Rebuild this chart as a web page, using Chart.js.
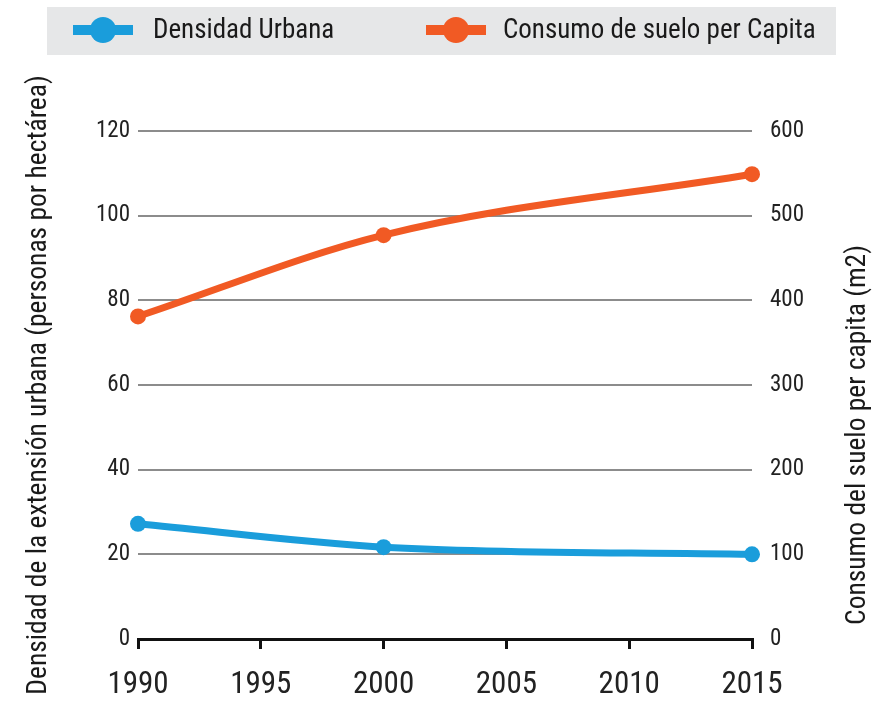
<!DOCTYPE html>
<html lang="es">
<head>
<meta charset="utf-8">
<title>Densidad urbana y consumo de suelo</title>
<script src="https://cdn.jsdelivr.net/npm/chart.js@4.4.1/dist/chart.umd.min.js"></script>
<style>
  html, body { margin: 0; padding: 0; background: #fff; }
  #marco { width: 884px; height: 706px; }
</style>
</head>
<body>
<div id="marco"><canvas id="grafico"></canvas></div>
<script>
const grafico_canvas = document.getElementById("grafico");

// datos
const anios = [1990, 2000, 2015];
const densidadUrbana = [27.2, 21.7, 20];
const consumoSuelo = [381, 477, 549];

const ticksAnios = [1990, 1995, 2000, 2005, 2010, 2015];
const ticksDensidad = [0, 20, 40, 60, 80, 100, 120];
const ticksConsumo = [0, 100, 200, 300, 400, 500, 600];

const etiquetas = ["Densidad Urbana", "Consumo de suelo per Capita"];
const tituloIzq = "Densidad de la extensión urbana (personas por hectárea)";
const tituloDer = "Consumo del suelo per capita (m2)";

const AZUL = "#1a9ddb";
const NARANJA = "#f15a24";
const FUENTE = "'Roboto Condensed', 'DejaVu Sans Condensed', sans-serif";

const puntos = (ys) => anios.map((x, i) => ({ x: x, y: ys[i] }));

// leyenda con caja gris, linea + circulo
const leyendaCaja = {
  id: "leyendaCaja",
  afterDraw(chart) {
    const ctx = chart.ctx;
    const posiciones = [
      { x: 73, tx: 153 },
      { x: 426, tx: 503 },
    ];
    ctx.save();
    ctx.fillStyle = "#e6e7e8";
    ctx.fillRect(47, 7, 789, 48);
    chart.data.datasets.forEach((ds, i) => {
      const p = posiciones[i];
      const cy = 30;
      ctx.strokeStyle = ds.borderColor;
      ctx.lineWidth = 10;
      ctx.beginPath();
      ctx.moveTo(p.x, cy);
      ctx.lineTo(p.x + 60, cy);
      ctx.stroke();
      ctx.fillStyle = ds.borderColor;
      ctx.beginPath();
      ctx.arc(p.x + 30, cy, 13, 0, Math.PI * 2);
      ctx.fill();
      ctx.fillStyle = "#1a1a1a";
      ctx.font = "27px " + FUENTE;
      ctx.textBaseline = "middle";
      ctx.textAlign = "left";
      ctx.fillText(ds.label, p.tx, cy + 1);
    });
    ctx.restore();
  },
};

// titulo del eje derecho, leido de abajo hacia arriba como en el original
const tituloDerecho = {
  id: "tituloDerecho",
  afterDraw(chart) {
    const ctx = chart.ctx;
    const escala = chart.scales.y2;
    ctx.save();
    ctx.translate(escala.right - 26, 435);
    ctx.rotate(-Math.PI / 2);
    ctx.fillStyle = "#1a1a1a";
    ctx.font = "27.5px " + FUENTE;
    ctx.textAlign = "center";
    ctx.textBaseline = "middle";
    ctx.fillText(tituloDer, 0, 0);
    ctx.restore();
  },
};

const config = {
  type: "line",
  data: {
    datasets: [
      {
        label: etiquetas[0],
        data: puntos(densidadUrbana),
        yAxisID: "y",
        borderColor: AZUL,
        backgroundColor: AZUL,
        borderWidth: 7,
        pointRadius: 8,
        pointBorderWidth: 0,
        cubicInterpolationMode: "monotone",
        clip: false,
      },
      {
        label: etiquetas[1],
        data: puntos(consumoSuelo),
        yAxisID: "y2",
        borderColor: NARANJA,
        backgroundColor: NARANJA,
        borderWidth: 7,
        pointRadius: 8,
        pointBorderWidth: 0,
        cubicInterpolationMode: "monotone",
        clip: false,
      },
    ],
  },
  options: {
    responsive: true,
    maintainAspectRatio: false,
    animation: false,
    layout: { padding: { top: 131, left: 0, right: 0, bottom: 0 } },
    plugins: {
      legend: { display: false },
      tooltip: { enabled: false },
    },
    scales: {
      x: {
        type: "linear",
        min: 1990,
        max: 2015,
        afterBuildTicks: (scale) => {
          scale.ticks = ticksAnios.map((v) => ({ value: v }));
        },
        afterFit: (scale) => {
          scale.height = 67;
        },
        grid: {
          drawOnChartArea: false,
          drawTicks: true,
          tickLength: 10,
          color: "#111",
          lineWidth: 3,
        },
        border: { display: true, color: "#111", width: 3 },
        ticks: {
          padding: 18,
          color: "#222",
          font: { family: FUENTE, size: 31 },
          maxRotation: 0,
          callback: (v) => String(v),
        },
      },
      y: {
        position: "left",
        min: 0,
        max: 120,
        afterBuildTicks: (scale) => {
          scale.ticks = ticksDensidad.map((v) => ({ value: v }));
        },
        afterFit: (scale) => {
          scale.width = 138;
        },
        grid: {
          drawTicks: false,
          lineWidth: 2,
          color: (c) => (c.tick && c.tick.value === 0 ? "rgba(0,0,0,0)" : "#8c8c8c"),
        },
        border: { display: false },
        ticks: {
          padding: 8,
          color: "#222",
          font: { family: FUENTE, size: 23 },
        },
        title: {
          display: true,
          text: tituloIzq,
          color: "#1a1a1a",
          font: { family: FUENTE, size: 27.5 },
          padding: { top: 23, bottom: 0 },
        },
      },
      y2: {
        position: "right",
        min: 0,
        max: 600,
        afterBuildTicks: (scale) => {
          scale.ticks = ticksConsumo.map((v) => ({ value: v }));
        },
        afterFit: (scale) => {
          scale.width = 132;
        },
        grid: { drawOnChartArea: false, drawTicks: false },
        border: { display: false },
        ticks: {
          padding: 18,
          color: "#222",
          font: { family: FUENTE, size: 23 },
        },
      },
    },
  },
  plugins: [leyendaCaja, tituloDerecho],
};

new Chart(grafico_canvas, config);
</script>
</body>
</html>
